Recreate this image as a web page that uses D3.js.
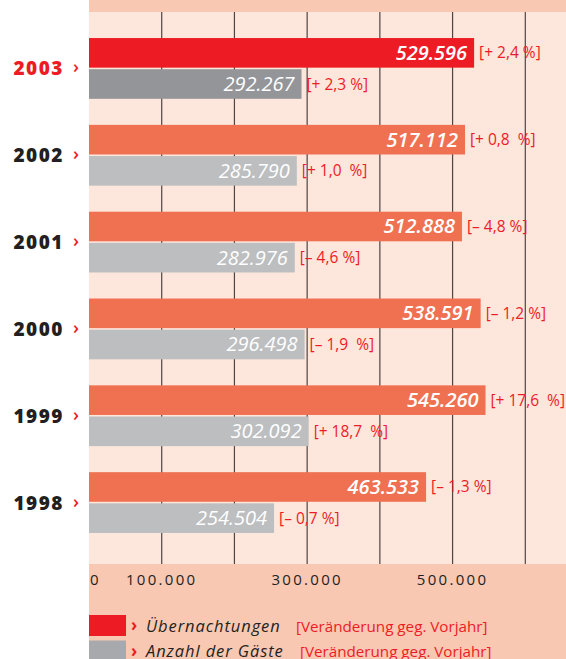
<!DOCTYPE html>
<html>
<head>
<meta charset="utf-8">
<script src="https://cdn.jsdelivr.net/npm/d3@7"></script>
<style>
  body { margin: 0; background: #fff; }
  svg { display: block; font-family: "Open Sans", sans-serif; }
  .pct { white-space: pre; }
</style>
</head>
<body>
<div id="chart"></div>
<script>
var years = ['2003', '2002', '2001', '2000', '1999', '1998'];
var nights = [529596, 517112, 512888, 538591, 545260, 463533];
var guests = [292267, 285790, 282976, 296498, 302092, 254504];
var nightsChange = ['[+ 2,4 %]', '[+ 0,8  %]', '[– 4,8 %]', '[– 1,2 %]', '[+ 17,6  %]', '[– 1,3 %]'];
var guestsChange = ['[+ 2,3 %]', '[+ 1,0  %]', '[– 4,6 %]', '[– 1,9  %]', '[+ 18,7  %]', '[– 0,7 %]'];
var gridValues = [100000, 200000, 300000, 400000, 500000, 600000];
var tickValues = [0, 100000, 300000, 500000];
var tickLabels = ['0', '100.000', '300.000', '500.000'];
var seriesNames = ['Übernachtungen', 'Anzahl der Gäste'];
var legendNote = '[Veränderung geg. Vorjahr]';
var highlight = '2003';

function draw_chart(ele){
  var width = 566,
      height = 659,
      left = 89,
      panelTop = 12,
      panelBottom = 564;

  var red = '#ed1c24', coral = '#f07052', darkGray = '#939598', lightGray = '#bcbec0';

  var de = d3.formatLocale({decimal: ',', thousands: '.', grouping: [3], currency: ['', '']});
  var fmt = de.format(',');

  var x = d3.scaleLinear().domain([0, 600000]).range([left, left + 436.3]);
  var y = d3.scaleBand().domain(years).range([panelTop, 559])
            .paddingInner(0.3).paddingOuter(0.3);
  var sub = d3.scaleBand().domain(['n', 'g']).range([0, y.bandwidth()]).paddingInner(0.05);

  var rows = years.map(function(d, i) {
    return {year: d, n: nights[i], g: guests[i], nc: nightsChange[i], gc: guestsChange[i]};
  });

  var svg = d3.select(ele)
      .append('svg')
      .attr('width', width)
      .attr('height', height);

  // background panels
  svg.append('rect')
      .attr('x', left).attr('y', 0)
      .attr('width', width - left).attr('height', height)
      .attr('fill', '#f9c8b3');
  svg.append('rect')
      .attr('x', left).attr('y', panelTop)
      .attr('width', width - left).attr('height', panelBottom - panelTop)
      .attr('fill', '#fde6dc');

  svg.selectAll('.grid')
      .data(gridValues)
      .enter().append('line')
      .attr('class', 'grid')
      .attr('x1', function(d) { return x(d); })
      .attr('x2', function(d) { return x(d); })
      .attr('y1', panelTop)
      .attr('y2', panelBottom)
      .attr('stroke', '#4f4543')
      .attr('stroke-width', 1.2);

  var g = svg.selectAll('.year')
      .data(rows)
      .enter().append('g')
      .attr('class', 'year')
      .attr('transform', function(d) { return 'translate(0,' + y(d.year) + ')'; });

  g.append('rect')
      .attr('x', x(0))
      .attr('y', sub('n'))
      .attr('width', function(d) { return x(d.n) - x(0); })
      .attr('height', sub.bandwidth())
      .attr('fill', function(d) { return d.year === highlight ? red : coral; });
  g.append('rect')
      .attr('x', x(0))
      .attr('y', sub('g'))
      .attr('width', function(d) { return x(d.g) - x(0); })
      .attr('height', sub.bandwidth())
      .attr('fill', function(d) { return d.year === highlight ? darkGray : lightGray; });

  g.append('text')
      .attr('x', function(d) { return x(d.n) - 7; })
      .attr('y', sub('n') + sub.bandwidth() / 2 + 7)
      .attr('text-anchor', 'end')
      .attr('fill', '#fff')
      .style('font-size', '20px')
      .style('font-style', 'italic')
      .style('font-weight', 600)
      .text(function(d) { return fmt(d.n); });
  g.append('text')
      .attr('x', function(d) { return x(d.g) - 7; })
      .attr('y', sub('g') + sub.bandwidth() / 2 + 7)
      .attr('text-anchor', 'end')
      .attr('fill', '#fff')
      .style('font-size', '20px')
      .style('font-style', 'italic')
      .style('font-weight', 500)
      .text(function(d) { return fmt(d.g); });

  g.append('text')
      .attr('class', 'pct')
      .attr('x', function(d) { return x(d.n) + 5; })
      .attr('y', sub('n') + sub.bandwidth() / 2 + 5.5)
      .attr('fill', red)
      .style('font-size', '15.5px')
      .text(function(d) { return d.nc; });
  g.append('text')
      .attr('class', 'pct')
      .attr('x', function(d) { return x(d.g) + 5; })
      .attr('y', sub('g') + sub.bandwidth() / 2 + 5.5)
      .attr('fill', red)
      .style('font-size', '15.5px')
      .text(function(d) { return d.gc; });

  // year labels
  g.append('text')
      .attr('x', 64)
      .attr('y', y.bandwidth() / 2 + 7)
      .attr('text-anchor', 'end')
      .attr('fill', function(d) { return d.year === highlight ? red : '#231f20'; })
      .style('font-size', '19px')
      .style('font-weight', 800)
      .style('letter-spacing', '1.5px')
      .text(function(d) { return d.year; });
  g.append('text')
      .attr('x', 73)
      .attr('y', y.bandwidth() / 2 + 5)
      .attr('fill', red)
      .style('font-size', '18px')
      .style('font-weight', 600)
      .text('›');

  // axis labels
  svg.selectAll('.tick-label')
      .data(tickValues)
      .enter().append('text')
      .attr('class', 'tick-label')
      .attr('x', function(d, i) { return i === 0 ? x(d) + 1 : x(d); })
      .attr('y', 585)
      .attr('text-anchor', function(d, i) { return i === 0 ? 'start' : 'middle'; })
      .attr('fill', '#231f20')
      .style('font-size', '15px')
      .style('letter-spacing', '2.3px')
      .text(function(d, i) { return tickLabels[i]; });

  // legend
  var leg = svg.selectAll('.legend')
      .data(seriesNames)
      .enter().append('g')
      .attr('class', 'legend')
      .attr('transform', function(d, i) { return 'translate(' + left + ',' + (615 + i * 25.5) + ')'; });
  leg.append('rect')
      .attr('width', 37)
      .attr('height', 21)
      .attr('fill', function(d, i) { return i === 0 ? red : '#a7a9ac'; });
  leg.append('text')
      .attr('x', 42)
      .attr('y', 16)
      .attr('fill', red)
      .style('font-size', '17px')
      .style('font-weight', 700)
      .text('›');
  leg.append('text')
      .attr('x', 57)
      .attr('y', 16.5)
      .attr('fill', '#231f20')
      .style('font-size', '16.5px')
      .style('font-style', 'italic')
      .style('font-weight', 500)
      .style('letter-spacing', '0.9px')
      .text(function(d) { return d; });
  leg.append('text')
      .attr('x', function(d, i) { return i === 0 ? 207 : 211; })
      .attr('y', 16.5)
      .attr('fill', red)
      .style('font-size', '15.2px')
      .text(legendNote);
}

draw_chart('#chart');
</script>
</body>
</html>
